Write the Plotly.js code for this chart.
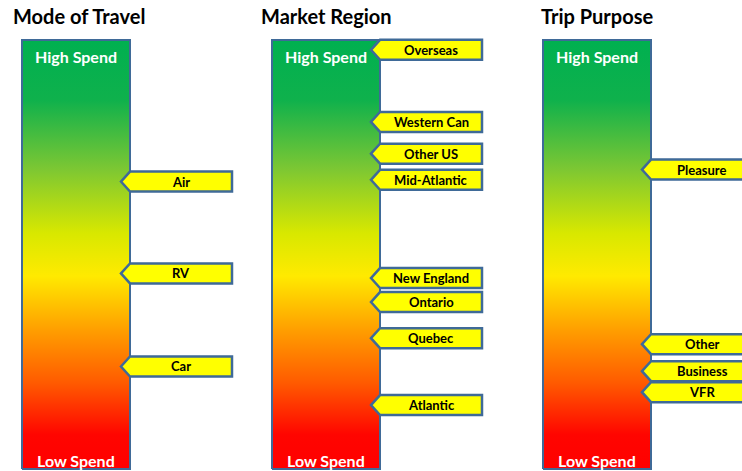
<!DOCTYPE html>
<html>
<head>
<meta charset="utf-8">
<script src="https://cdn.plot.ly/plotly-3.0.1.min.js"></script>
<style>html,body{margin:0;padding:0;background:#fff;}#chart{width:742px;height:471px;}</style>
</head>
<body>
<div id="chart"></div>
<script>
// ---- Data (spend index, 0 = Low Spend, 100 = High Spend) ----
var panelTitles = ["Mode of Travel", "Market Region", "Trip Purpose"];

var travelModes = ["Air", "RV", "Car"];
var travelValues = [67.0, 45.6, 23.9];

var regionNames = ["Overseas", "Western Can", "Other US", "Mid-Atlantic", "New England", "Ontario", "Quebec", "Atlantic"];
var regionValues = [97.7, 80.9, 73.5, 67.4, 44.5, 38.9, 30.5, 14.9];

var purposeNames = ["Pleasure", "Other", "Business", "VFR"];
var purposeValues = [69.8, 29.1, 22.8, 17.9];

var scaleLabels = ["High Spend", "Low Spend"];
var scaleRange = [0, 100];

// ---- Layout helpers ----
var W = 742, H = 471;
var FONT = "Lato, 'Open Sans', sans-serif";
var BORDER = "#3F6A98";
var unitPx = 108;            // bar width in px
var barLeftPx = [22, 272, 543];
var titleLeftPx = [11, 259, 539];
var padPx = 3;
var marginT = 38;
var plotH = H - marginT;
var barTopPx = 40, barBotPx = 469;
var pxPerUnit = (barBotPx - barTopPx) / (scaleRange[1] - scaleRange[0]);
var yLo = scaleRange[0] - (marginT + plotH - barBotPx) / pxPerUnit;
var yHi = scaleRange[1] + (barTopPx - marginT) / pxPerUnit;

var groups = [
  {names: travelModes, values: travelValues},
  {names: regionNames, values: regionValues},
  {names: purposeNames, values: purposeValues}
];

var gradient = [
  [0, "#ff0000"], [0.08, "#ff0500"], [0.2, "#ff5a00"], [0.32, "#ff9c00"],
  [0.45, "#ffea00"], [0.55, "#d8e800"], [0.7, "#7cc733"], [0.86, "#0fb14c"], [1, "#00b050"]
];

var traces = [];
var shapes = [];
var annotations = [];
var layout = {
  width: W, height: H,
  margin: {l: 0, r: 0, t: marginT, b: 0, pad: 0},
  paper_bgcolor: "#ffffff", plot_bgcolor: "rgba(0,0,0,0)",
  showlegend: false,
  font: {family: FONT}
};

var tagTip = -9 / unitPx, tagRight = 1 + 102 / unitPx, tagHalf = 10;

groups.forEach(function (g, i) {
  var n = i + 1;
  var xa = n === 1 ? "x" : "x" + n;
  var ya = n === 1 ? "y" : "y" + n;
  var leftPx = barLeftPx[i] - padPx;
  var rightPx = (i < 2) ? barLeftPx[i] + unitPx * 2.15 : W;
  var xr = [-padPx / unitPx, (rightPx - leftPx) / unitPx - padPx / unitPx];
  layout["xaxis" + (n === 1 ? "" : n)] = {
    domain: [leftPx / W, Math.min(rightPx / W, 1)], range: xr,
    visible: false, fixedrange: true, anchor: ya
  };
  layout["yaxis" + (n === 1 ? "" : n)] = {
    domain: [0, 1], range: [yLo, yHi], visible: false, fixedrange: true, anchor: xa
  };

  // gradient bar
  traces.push({
    type: "scatter", mode: "lines", xaxis: xa, yaxis: ya,
    x: [0, 1, 1, 0, 0],
    y: [scaleRange[0], scaleRange[0], scaleRange[1], scaleRange[1], scaleRange[0]],
    fill: "toself",
    fillgradient: {type: "vertical", colorscale: gradient, start: scaleRange[0], stop: scaleRange[1]},
    line: {color: BORDER, width: 2},
    hoverinfo: "skip"
  });

  // panel title
  annotations.push({
    xref: "paper", yref: "paper", x: titleLeftPx[i] / W, y: 1 + (marginT - 16) / plotH,
    xanchor: "left", yanchor: "middle", showarrow: false,
    text: "<b>" + panelTitles[i] + "</b>",
    font: {family: FONT, size: 20, color: "#000000"}
  });
  // high / low labels
  annotations.push({
    xref: xa, yref: ya, x: 0.5, y: scaleRange[1], yshift: -16, showarrow: false,
    xanchor: "center", yanchor: "middle",
    text: "<b>" + scaleLabels[0] + "</b>", font: {family: FONT, size: 16, color: "#ffffff"}
  });
  annotations.push({
    xref: xa, yref: ya, x: 0.5, y: scaleRange[0], yshift: 9, showarrow: false,
    xanchor: "center", yanchor: "middle",
    text: "<b>" + scaleLabels[1] + "</b>", font: {family: FONT, size: 16, color: "#ffffff"}
  });

  // tags
  g.values.forEach(function (v, k) {
    var p = "M" + (1 + tagTip) + ",0 L1," + tagHalf + " L" + tagRight + "," + tagHalf +
            " L" + tagRight + "," + (-tagHalf) + " L1," + (-tagHalf) + " Z";
    shapes.push({
      type: "path", xref: xa, yref: ya, ysizemode: "pixel", yanchor: v,
      path: p, fillcolor: "#ffff00", line: {color: BORDER, width: 2.5}, layer: "above"
    });
    annotations.push({
      xref: xa, yref: ya, x: (1 + tagRight) / 2, y: v, showarrow: false,
      xanchor: "center", yanchor: "middle",
      text: "<b>" + g.names[k] + "</b>", font: {family: FONT, size: 13, color: "#000000"}
    });
  });
});

layout.shapes = shapes;
layout.annotations = annotations;

Plotly.newPlot("chart", traces, layout, {displayModeBar: false, staticPlot: true});
</script>
</body>
</html>
